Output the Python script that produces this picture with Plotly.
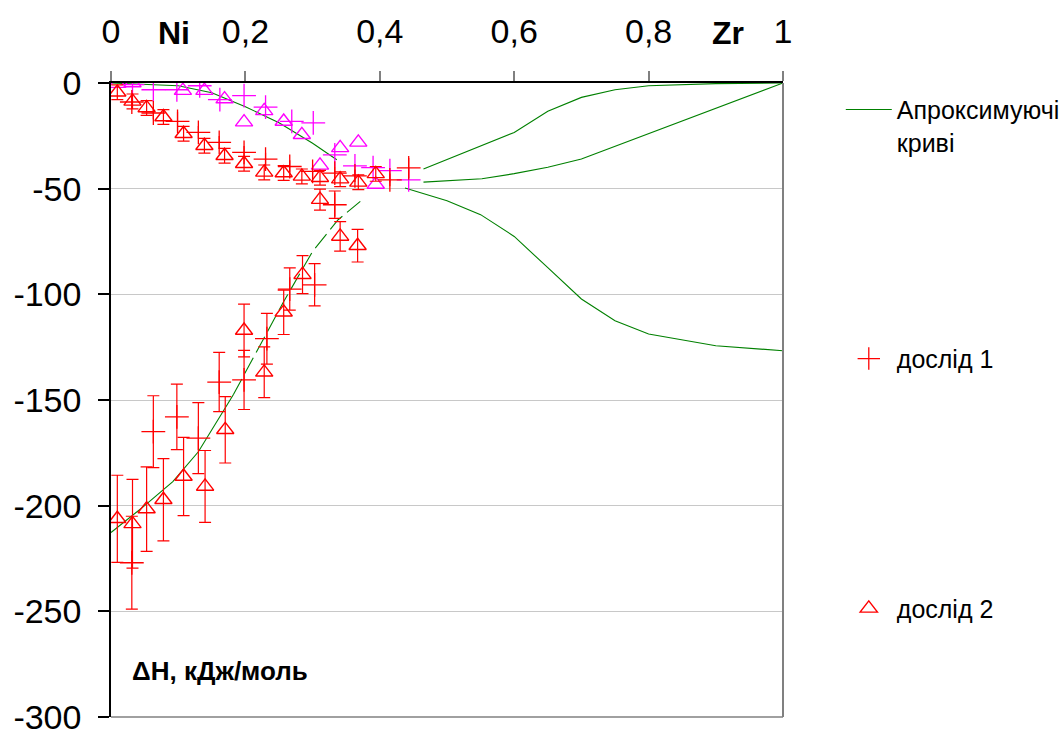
import plotly.graph_objects as go

# ---------------- data ----------------
x_ticks = [0, 0.2, 0.4, 0.6, 0.8, 1]
x_ticktext = ["0", "0,2", "0,4", "0,6", "0,8", "1"]
y_ticks = [0, -50, -100, -150, -200, -250, -300]
y_ticktext = ["0", "-50", "-100", "-150", "-200", "-250", "-300"]

# approximating curves
curve_up_x = [0, 0.10, 0.15, 0.20, 0.25, 0.30, 0.336, None, 0.465, 0.50, 0.55, 0.60, 0.65, 0.70, 0.75, 0.80, 0.90, 1.0]
curve_up_y = [0, -1.3, -4.6, -11.2, -18.8, -28.5, -36.3, None, -40.7, -36.3, -29.9, -23.4, -13.4, -6.8, -3.2, -1.3, -0.3, 0]

curve_mid_x = [0.465, 0.552, 0.60, 0.65, 0.70, 0.80, 0.90, 1.0]
curve_mid_y = [-46.9, -45.3, -42.9, -39.9, -36.0, -24.0, -12.0, 0]

# lower curve: solid start, broken (dashed) middle, solid right part
curve_low_a_x = [0, 0.05, 0.092, 0.13, 0.182]
curve_low_a_y = [-212.7, -200, -188.6, -174.5, -147.5]
curve_low_b_x = [0.182, 0.237, 0.256, 0.30, 0.338, 0.371]
curve_low_b_y = [-147.5, -115, -104, -79.7, -64.7, -56]
curve_low_c_x = [0.4375, 0.50, 0.55, 0.60, 0.65, 0.70, 0.75, 0.80, 0.90, 1.0]
curve_low_c_y = [-49.7, -55.7, -62.3, -72.6, -87.4, -102.2, -112.5, -118.8, -124.3, -126.7]

# experiment 1 (red plus) lower branch with error bars
e1_low_x = [0.031, 0.063, 0.098, 0.130, 0.161, 0.198, 0.232, 0.266, 0.303, 0.333]
e1_low_y = [-227, -165, -158, -168, -141.5, -140.5, -121, -97.5, -95.5, -57.6]
e1_low_err = [22, 17, 15.5, 16.8, 14, 14, 12, 10, 10, 6.5]

# experiment 1 (red plus) upper branch
e1_up_x = [0.031, 0.063, 0.099, 0.130, 0.161, 0.198, 0.230, 0.266, 0.300, 0.333, 0.363, 0.415, 0.443]
e1_up_y = [-9, -14.2, -18.2, -23.4, -28.1, -32.8, -36, -39.5, -41.8, -42.6, -43.9, -45.8, -40.2]
e1_up_err = [3, 3, 4.5, 3, 3, 3, 3, 3, 3, 3, 3, 3, 4.7]

# experiment 2 (red triangles) lower branch with error bars
e2_low_x = [0.0094, 0.032, 0.053, 0.078, 0.108, 0.140, 0.170, 0.198, 0.228, 0.257, 0.285, 0.311, 0.341, 0.367]
e2_low_y = [-206.2, -208.6, -201.6, -197.2, -186.2, -190.9, -164.1, -117.1, -136.9, -108.5, -90.7, -55.2, -72.6, -77]
e2_low_err = [20.6, 21, 20, 19.5, 18.5, 17, 15.7, 12.5, 12, 10.5, 9, 5, 7, 7.7]

# experiment 2 (red triangles) upper branch
e2_up_x = [0.0094, 0.032, 0.053, 0.078, 0.108, 0.139, 0.169, 0.198, 0.228, 0.257, 0.284, 0.311, 0.341, 0.368, 0.394]
e2_up_y = [-4.4, -8.7, -11.8, -16.1, -24, -29.7, -34.4, -38.2, -42.3, -42.6, -44.2, -44.8, -45.5, -47, -43]
e2_up_err = [3.5] * 15

# magenta series (top branch)
m_tri_x = [0.0094, 0.032, 0.107, 0.139, 0.169, 0.198, 0.228, 0.257, 0.284, 0.311, 0.341, 0.368, 0.394]
m_tri_y = [-0.3, 0, -3.6, -3.6, -7.6, -18.5, -13.2, -18.2, -24.5, -39, -30.7, -28.1, -48]
m_plus_x = [0.032, 0.063, 0.098, 0.132, 0.162, 0.198, 0.230, 0.269, 0.301, 0.333, 0.363, 0.390, 0.415, 0.443]
m_plus_y = [-0.8, -3.2, -3.2, -1.3, -7.9, -6, -11.4, -18.2, -18.9, -34, -39.2, -40, -41.5, -45.8]

legend_curves = "Апроксимуючі<br>криві"
legend_e1 = "дослід 1"
legend_e2 = "дослід 2"
y_label = "<b>ΔH, кДж/моль</b>"

# ---------------- styles ----------------
FONT = "Arial, Liberation Sans, sans-serif"
GREEN = "#008000"
RED = "#FF0000"
MAG = "#FF00FF"
PLUS = dict(symbol="cross-thin", size=17, line=dict(width=1.3))
TRI = dict(symbol="triangle-up-open", size=15, line=dict(width=1.4))

fig = go.Figure()

curves = [
    (curve_up_x, curve_up_y, True, "solid"),
    (curve_mid_x, curve_mid_y, False, "solid"),
    (curve_low_a_x, curve_low_a_y, False, "solid"),
    (curve_low_b_x, curve_low_b_y, False, "18px,6px"),
    (curve_low_c_x, curve_low_c_y, False, "solid"),
]
for cx, cy, show, dash in curves:
    fig.add_trace(go.Scatter(x=cx, y=cy, mode="lines", line=dict(color=GREEN, width=1.1, dash=dash),
                             name=legend_curves, showlegend=show, legend="legend",
                             connectgaps=False, hoverinfo="skip"))

def err(a, w=6):
    return dict(type="data", array=a, visible=True, color=RED, thickness=1.2, width=w)

fig.add_trace(go.Scatter(x=m_tri_x, y=m_tri_y, mode="markers",
                         marker=dict(color=MAG, **TRI), showlegend=False))
fig.add_trace(go.Scatter(x=m_plus_x, y=m_plus_y, mode="markers",
                         marker=dict(color=MAG, line_color=MAG, **PLUS), showlegend=False))
fig.add_trace(go.Scatter(x=e1_up_x, y=e1_up_y, mode="markers", error_y=err(e1_up_err, 0),
                         marker=dict(color=RED, line_color=RED, **PLUS), showlegend=False))
fig.add_trace(go.Scatter(x=e2_up_x, y=e2_up_y, mode="markers", error_y=err(e2_up_err),
                         marker=dict(color=RED, **TRI), showlegend=False))
fig.add_trace(go.Scatter(x=e1_low_x, y=e1_low_y, mode="markers", error_y=err(e1_low_err),
                         marker=dict(color=RED, line_color=RED, **PLUS),
                         name=legend_e1, showlegend=True, legend="legend2"))
fig.add_trace(go.Scatter(x=e2_low_x, y=e2_low_y, mode="markers", error_y=err(e2_low_err),
                         marker=dict(color=RED, **TRI),
                         name=legend_e2, showlegend=True, legend="legend3"))

tick_font = dict(family=FONT, size=34, color="black")
legend_common = dict(font=dict(family=FONT, size=25, color="black"), bgcolor="rgba(0,0,0,0)",
                     borderwidth=0, itemwidth=46, xanchor="left", x=1.086, valign="top",
                     itemclick=False)

fig.update_layout(
    width=1063, height=731,
    margin=dict(l=111, r=280, t=83, b=14, autoexpand=False),
    paper_bgcolor="white", plot_bgcolor="white",
    font=dict(family=FONT, color="black"),
    xaxis=dict(range=[0, 1], side="top", tickvals=x_ticks, ticktext=x_ticktext,
               showline=True, linecolor="black", linewidth=1.5,
               ticks="outside", ticklen=10, tickcolor="#808080", tickwidth=1.5,
               showgrid=False, zeroline=False, tickfont=tick_font, ticklabelstandoff=15,
               ticklabeloverflow="allow"),
    yaxis=dict(range=[-300, 0], tickvals=y_ticks, ticktext=y_ticktext,
               showline=True, linecolor="black", linewidth=1.5,
               ticks="outside", ticklen=11, tickcolor="black", tickwidth=1.5,
               showgrid=True, gridcolor="#c8c8c8", gridwidth=1.2, zeroline=False,
               tickfont=tick_font, ticklabelstandoff=10, ticklabeloverflow="allow"),
    legend=dict(yanchor="top", y=0.994, **legend_common),
    legend2=dict(yanchor="middle", y=0.565, **legend_common),
    legend3=dict(yanchor="middle", y=0.171, **legend_common),
    shapes=[
        dict(type="line", xref="paper", yref="paper", x0=0, x1=1, y0=0, y1=0,
             line=dict(color="#808080", width=1.5)),
        dict(type="line", xref="paper", yref="paper", x0=1, x1=1, y0=0, y1=1,
             line=dict(color="#808080", width=2)),
    ],
    annotations=[
        dict(text="<b>Ni</b>", x=0.094, xref="x", y=1.079, yref="paper", showarrow=False,
             font=dict(family=FONT, size=32, color="black"), xanchor="center", yanchor="middle"),
        dict(text="<b>Zr</b>", x=0.918, xref="x", y=1.079, yref="paper", showarrow=False,
             font=dict(family=FONT, size=32, color="black"), xanchor="center", yanchor="middle"),
        dict(text=y_label, x=0.028, xref="x", y=-278, yref="y", showarrow=False,
             font=dict(family=FONT, size=26, color="black"), xanchor="left", yanchor="middle"),
    ],
)

fig.write_html("out.html")
